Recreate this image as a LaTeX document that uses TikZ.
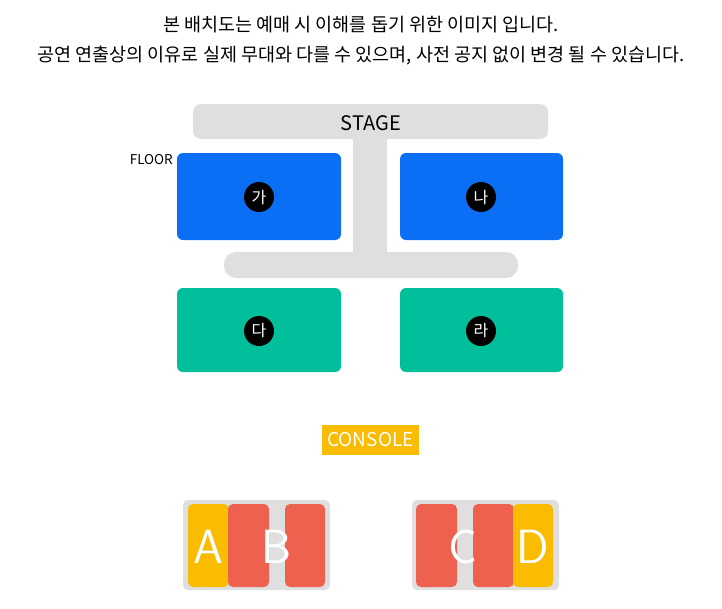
\documentclass[tikz,border=0pt]{standalone}
\usepackage{fontspec}
\setmainfont{Noto Sans CJK KR}
\begin{document}
\begin{tikzpicture}[x=1pt,y=-1pt,
  gr/.style={fill=gray!25,draw=none,rounded corners=8pt},
  blk/.style={draw=none,rounded corners=6pt},
  num/.style={circle,fill=black,text=white,minimum size=30pt,inner sep=0pt,font=\fontsize{16}{16}\selectfont},
  big/.style={text=white,font=\fontsize{48}{48}\selectfont\sffamily}]
\definecolor{blu}{HTML}{0A6FF5}
\definecolor{grn}{HTML}{00BF9A}
\definecolor{yel}{HTML}{F9BC00}
\definecolor{red}{HTML}{EE614E}
\useasboundingbox (0,0) rectangle (722,608);
\node (t1) at (361,25) {\fontsize{18.5}{18.5}\selectfont 본 배치도는 예매 시 이해를 돕기 위한 이미지 입니다.};
\node (t2) at (361,56) {\fontsize{18.5}{18.5}\selectfont 공연 연출상의 이유로 실제 무대와 다를 수 있으며, 사전 공지 없이 변경 될 수 있습니다.};
\fill[gray!25] (353,135) rectangle (387,258);
\fill[gr] (193,104) rectangle (548,139);
\fill[gr,rounded corners=12pt] (224,252) rectangle (518,278);
\node (stage) at (371,123) {\fontsize{20}{20}\selectfont STAGE};
\node[anchor=east,inner sep=0pt] (floor) at (173,160) {\fontsize{13.5}{13.5}\selectfont FLOOR};
\fill[blk,blu] (177,153) rectangle (341,240);
\fill[blk,blu] (400,153) rectangle (563,240);
\fill[blk,grn] (177,288) rectangle (341,372);
\fill[blk,grn] (400,288) rectangle (563,372);
\node[num] (ga) at (259,197) {가};
\node[num] (na) at (481,197) {나};
\node[num] (da) at (259,331) {다};
\node[num] (ra) at (481,331) {라};
\fill[yel] (322,425) rectangle (419,455);
\node[text=white,inner sep=0pt] (con) at (370.5,440) {\fontsize{19}{19}\selectfont CONSOLE};
\fill[gr,rounded corners=5pt] (183,500) rectangle (330,590);
\fill[gr,rounded corners=5pt] (412,500) rectangle (559,590);
\fill[yel,rounded corners=5pt] (188,504) rectangle (229,587);
\fill[red,rounded corners=5pt] (228,504) rectangle (269,587);
\fill[red,rounded corners=5pt] (285,504) rectangle (325,587);
\fill[red,rounded corners=5pt] (416,504) rectangle (457,587);
\fill[red,rounded corners=5pt] (473,504) rectangle (514,587);
\fill[yel,rounded corners=5pt] (513,504) rectangle (553,587);
\node[big] (A) at (208,547) {A};
\node[big] (B) at (277,547) {B};
\node[big] (C) at (463,547) {C};
\node[big] (D) at (533,547) {D};
\end{tikzpicture}
\end{document}
